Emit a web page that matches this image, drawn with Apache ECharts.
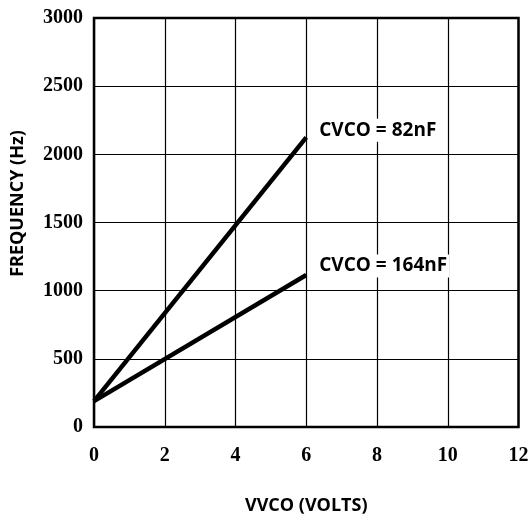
<!DOCTYPE html>
<html><head><meta charset="utf-8">
<script src="https://cdn.jsdelivr.net/npm/echarts@6/dist/echarts.min.js"></script>
<style>html,body{margin:0;padding:0;background:#fff}#c{width:532px;height:520px}</style>
</head><body><div id="c"></div>
<script>
const vvco = [0, 6];
const freq82 = [190, 2125];
const freq164 = [190, 1115];
const xTicks = [0, 2, 4, 6, 8, 10, 12];
const yTicks = [0, 500, 1000, 1500, 2000, 2500, 3000];
const seriesNames = ['CVCO = 82nF', 'CVCO = 164nF'];

const chart = echarts.init(document.getElementById('c'));
const tickFont = {fontFamily: 'Liberation Serif', fontWeight: 'bold', fontSize: 20, color: '#000'};
const nameFont = {fontFamily: 'Open Sans', fontWeight: 'bold', fontSize: 18, color: '#000'};
function mk(name, ys, dy) {
  return {
    type: 'line', name: name, symbol: 'none', silent: true,
    data: vvco.map((x, i) => [x, ys[i]]),
    lineStyle: {color: '#000', width: 4.5},
    endLabel: {
      show: true, formatter: name, color: '#000',
      fontFamily: 'Open Sans', fontWeight: 'bold', fontSize: 19,
      backgroundColor: '#fff', padding: [2, 2, 2, 2],
      offset: [3, dy]
    }
  };
}
chart.setOption({
  animation: false,
  grid: {left: 94, right: 13.5, top: 18, bottom: 87.5, show: true, borderColor: '#000', borderWidth: 2.5, z: 5},
  xAxis: {
    type: 'value', min: 0, max: 12, interval: 2,
    name: 'VVCO (VOLTS)', nameLocation: 'middle', nameGap: 70,
    nameTextStyle: nameFont,
    axisLine: {show: false}, axisTick: {show: false},
    axisLabel: Object.assign({margin: 19, formatter: v => xTicks.includes(v) ? String(v) : ''}, tickFont),
    splitLine: {show: true, lineStyle: {color: '#000', width: 1.2}}
  },
  yAxis: {
    type: 'value', min: 0, max: 3000, interval: 500,
    name: 'FREQUENCY (Hz)', nameLocation: 'middle', nameGap: 67, nameRotate: 90,
    nameTextStyle: Object.assign({padding: [0, 0, 0, 38]}, nameFont),
    axisLine: {show: false}, axisTick: {show: false},
    axisLabel: Object.assign({margin: 11, formatter: v => yTicks.includes(v) ? String(v) : ''}, tickFont),
    splitLine: {show: true, lineStyle: {color: '#000', width: 1.2}}
  },
  series: [mk(seriesNames[0], freq82, -7), mk(seriesNames[1], freq164, -9)]
});
</script></body></html>
